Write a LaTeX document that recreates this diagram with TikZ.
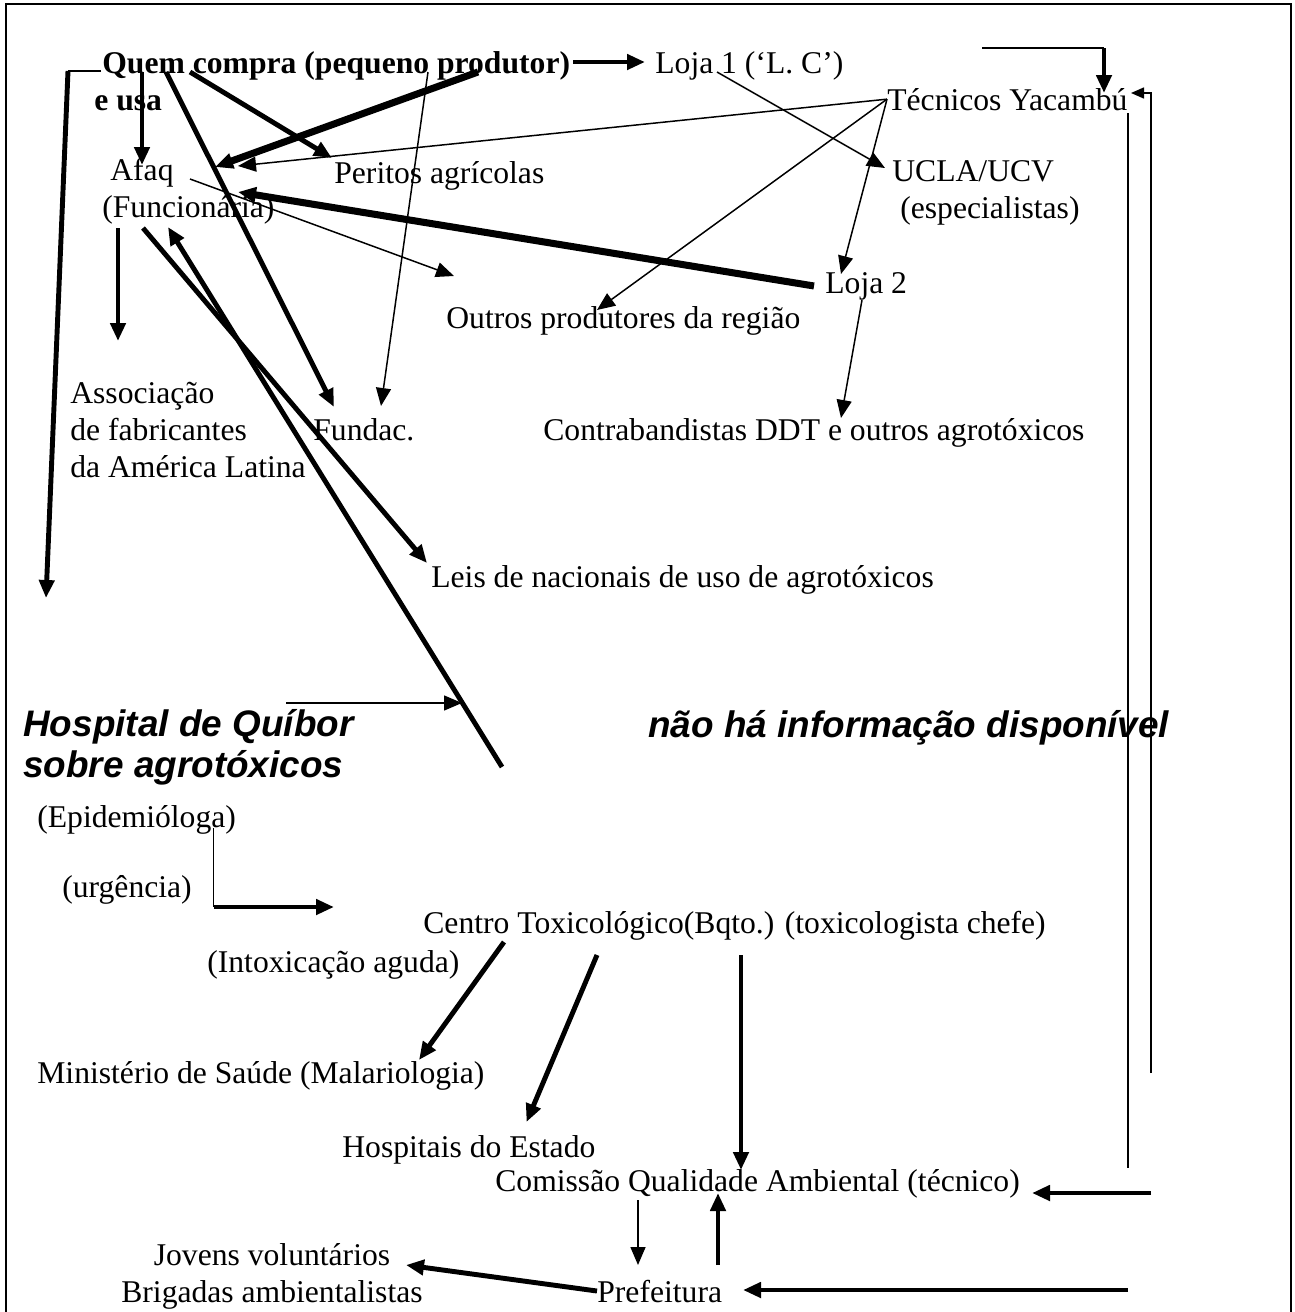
\documentclass[tikz,border=0pt]{standalone}
\usepackage{fontspec}
\setmainfont{Liberation Serif}
\newfontfamily\sansfont{Liberation Sans}
\usetikzlibrary{arrows.meta, positioning}
\tikzstyle{rotulo} = [inner sep=0pt, anchor=base west, font=\fontsize{18}{21}\selectfont]
\tikzstyle{negrito} = [rotulo, font=\fontsize{18}{21}\selectfont\bfseries]
\tikzstyle{destaque} = [rotulo, font=\fontsize{21}{23}\selectfont\sansfont\bfseries\itshape]
\tikzstyle{fino} = [line width=0.85pt]
\tikzstyle{grosso} = [line width=2.8pt]
\tikzstyle{muitogrosso} = [line width=4pt]
\tikzstyle{seta} = [-{Triangle[length=3.6mm,width=3mm]}]
\tikzstyle{setinha} = [-{Triangle[length=2.6mm,width=2.2mm]}]

\begin{document}
\begin{tikzpicture}[x=0.2mm, y=-0.2mm]
	\useasboundingbox (0,0) rectangle (1295,1312);
	\draw[line width=1.2pt] (6,1312) -- (6,4) -- (1291,4) -- (1291,1312);

	% textos (nos de varias linhas: base na ultima linha)
	\node[negrito] (quem) at (102,73) {Quem compra (pequeno produtor)};
	\node[negrito] (eusa) at (94,110) {e usa};
	\node[rotulo] (loja1) at (655,73) {Loja 1 (‘L. C’)};
	\node[rotulo] (tecnicos) at (887,110) {Técnicos Yacambú};
	\node[rotulo, align=left] (afaq) at (102,217) {\hspace*{1.6mm}Afaq\\(Funcionária)};
	\node[rotulo] (peritos) at (334,183) {Peritos agrícolas};
	\node[rotulo, align=left] (ucla) at (892,218) {UCLA/UCV\\\hspace*{1.6mm}(especialistas)};
	\node[rotulo] (loja2) at (825,293) {Loja 2};
	\node[rotulo] (outros) at (446,328) {Outros produtores da região};
	\node[rotulo, align=left] (assoc) at (70,477) {Associação\\de fabricantes\\da América Latina};
	\node[rotulo] (fundac) at (313,440) {Fundac.};
	\node[rotulo] (contra) at (543,440) {Contrabandistas DDT e outros agrotóxicos};
	\node[rotulo] (leis) at (431,587) {Leis de nacionais de uso de agrotóxicos};
	\node[destaque, align=left] (hospital) at (23,777) {Hospital de Quíbor\\sobre agrotóxicos};
	\node[destaque] (seminfo) at (648,737) {não há informação disponível};
	\node[rotulo] (epidem) at (37,827) {(Epidemióloga)};
	\node[rotulo] (urgencia) at (62,897) {(urgência)};
	\node[rotulo] (centro) at (423,933) {Centro Toxicológico(Bqto.) (toxicologista chefe)};
	\node[rotulo] (intox) at (207,972) {(Intoxicação aguda)};
	\node[rotulo] (ministerio) at (37,1083) {Ministério de Saúde (Malariologia)};
	\node[rotulo] (hospestado) at (342,1157) {Hospitais do Estado};
	\node[rotulo] (comissao) at (495,1191) {Comissão Qualidade Ambiental (técnico)};
	\node[rotulo, anchor=base, align=center] (jovens) at (272,1302) {Jovens voluntários\\Brigadas ambientalistas};
	\node[rotulo] (prefeitura) at (597,1302) {Prefeitura};

	% pontas das setas
	\coordinate (quemSai) at (573,62);
	\coordinate (loja1Chega) at (645,62);
	\coordinate (quemEsq) at (101,71);
	\coordinate (cantoEsq) at (68,71);
	\coordinate (fimEsq) at (46,598);
	\coordinate (quemA) at (142,72);
	\coordinate (afaqA) at (142,165);
	\coordinate (quemB) at (190,72);
	\coordinate (peritosA) at (332,158);
	\coordinate (quemC) at (478,72);
	\coordinate (afaqB) at (215,167);
	\coordinate (afaqC) at (238,166);
	\coordinate (quemD) at (166,72);
	\coordinate (fundacA) at (334,407);
	\coordinate (quemE) at (428,72);
	\coordinate (fundacB) at (381,406);
	\coordinate (afaqSai) at (190,179);
	\coordinate (outrosA) at (454,276);
	\coordinate (loja2Sai) at (814,286);
	\coordinate (afaqD) at (238,192);
	\coordinate (afaqE) at (118,228);
	\coordinate (assocA) at (118,341);
	\coordinate (afaqF) at (143,228);
	\coordinate (leisA) at (427,563);
	\coordinate (linhaBaixo) at (502,767);
	\coordinate (afaqG) at (168,227);
	\coordinate (hospSai) at (286,703);
	\coordinate (linhaMeio) at (462,703);
	\coordinate (loja1Sai) at (717,72);
	\coordinate (uclaA) at (885,168);
	\coordinate (loja2A) at (841,274);
	\coordinate (outrosB) at (597,310);
	\coordinate (loja2B) at (862,300);
	\coordinate (contraA) at (841,418);
	\coordinate (topoA) at (982,48);
	\coordinate (topoB) at (1104,48);
	\coordinate (tecnicosA) at (1104,93);
	\coordinate (dirA1) at (1128,113);
	\coordinate (dirA2) at (1128,1168);
	\coordinate (dirB1) at (1151,1073);
	\coordinate (dirB2) at (1151,93);
	\coordinate (tecnicosB) at (1131,93);
	\coordinate (dirC) at (1151,1193);
	\coordinate (comissaoA) at (1032,1193);
	\coordinate (dirD) at (1128,1290);
	\coordinate (prefeituraA) at (743,1290);
	\coordinate (epidSai) at (213.5,828);
	\coordinate (epidCanto) at (213.5,907);
	\coordinate (epidChega) at (334,907);
	\coordinate (centroA) at (504,942);
	\coordinate (ministerioA) at (419,1060);
	\coordinate (centroB) at (597,955);
	\coordinate (hospestadoA) at (526.5,1122);
	\coordinate (centroC) at (741,955);
	\coordinate (comissaoB) at (741,1170);
	\coordinate (comissaoSai) at (638,1200);
	\coordinate (prefeituraB) at (638,1265);
	\coordinate (prefeituraSai) at (718,1265);
	\coordinate (comissaoC) at (718,1193);
	\coordinate (jovensA) at (406,1265);

	% setas
	\draw[grosso, seta] (quemSai) -- (loja1Chega);
	\draw[fino] (quemEsq) -- (cantoEsq);
	\draw[grosso, seta] (cantoEsq) -- (fimEsq);
	\draw[grosso, seta] (quemA) -- (afaqA);
	\draw[grosso, seta] (quemB) -- (peritosA);
	\draw[muitogrosso, seta] (quemC) -- (afaqB);
	\draw[fino, seta] (tecnicos.west) -- (afaqC);
	\draw[grosso, seta] (quemD) -- (fundacA);
	\draw[fino, seta] (quemE) -- (fundacB);
	\draw[fino, seta] (afaqSai) -- (outrosA);
	\draw[muitogrosso, seta] (loja2Sai) -- (afaqD);
	\draw[grosso, seta] (afaqE) -- (assocA);
	\draw[grosso, seta] (afaqF) -- (leisA);
	\draw[grosso, seta] (linhaBaixo) -- (afaqG);
	\draw[fino, seta] (hospSai) -- (linhaMeio);
	\draw[fino, seta] (loja1Sai) -- (uclaA);
	\draw[fino, seta] (tecnicos.west) -- (loja2A);
	\draw[fino, seta] (tecnicos.west) -- (outrosB);
	\draw[fino, seta] (loja2B) -- (contraA);
	\draw[fino] (topoA) -- (topoB);
	\draw[grosso, seta] (topoB) -- (tecnicosA);
	\draw[fino] (dirA1) -- (dirA2);
	\draw[fino, setinha] (dirB1) -- (dirB2) -- (tecnicosB);
	\draw[grosso, seta] (dirC) -- (comissaoA);
	\draw[grosso, seta] (dirD) -- (prefeituraA);
	\draw[fino] (epidSai) -- (epidCanto);
	\draw[grosso, seta] (epidCanto) -- (epidChega);
	\draw[grosso, seta] (centroA) -- (ministerioA);
	\draw[grosso, seta] (centroB) -- (hospestadoA);
	\draw[grosso, seta] (centroC) -- (comissaoB);
	\draw[fino, seta] (comissaoSai) -- (prefeituraB);
	\draw[grosso, seta] (prefeituraSai) -- (comissaoC);
	\draw[grosso, seta] (prefeitura.west) -- (jovensA);
\end{tikzpicture}
\end{document}
